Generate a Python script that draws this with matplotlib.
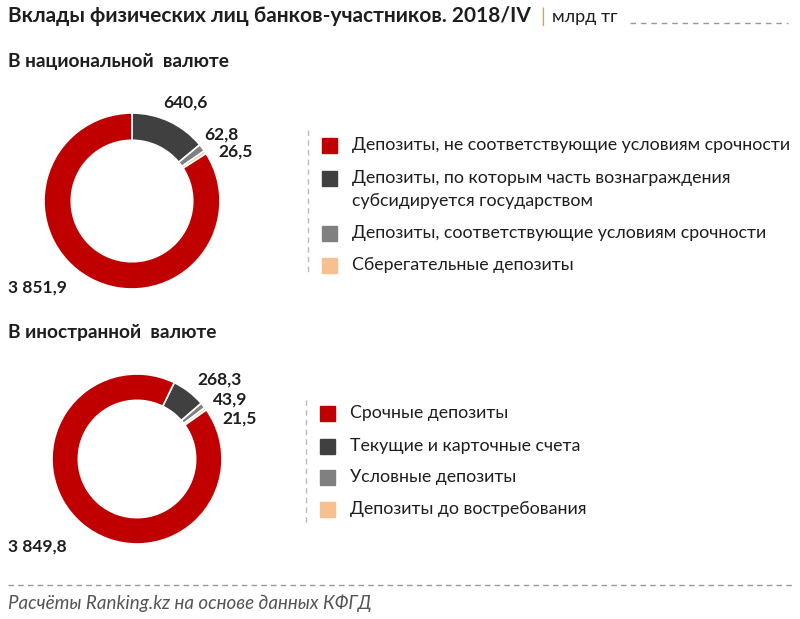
import matplotlib
matplotlib.use("Agg")
import matplotlib.pyplot as plt
from matplotlib.lines import Line2D
from matplotlib.patches import Rectangle

W, H = 800, 619

# ---- data ----
nat_labels = ["Депозиты, не соответствующие условиям срочности",
              "Депозиты, по которым часть вознаграждения\nсубсидируется государством",
              "Депозиты, соответствующие условиям срочности",
              "Сберегательные депозиты"]
nat_values = [3851.9, 640.6, 62.8, 26.5]
nat_value_text = ["3 851,9", "640,6", "62,8", "26,5"]

for_labels = ["Срочные депозиты",
              "Текущие и карточные счета",
              "Условные депозиты",
              "Депозиты до востребования"]
for_values = [3849.8, 268.3, 43.9, 21.5]
for_value_text = ["3 849,8", "268,3", "43,9", "21,5"]

colors = ["#C00000", "#404040", "#808080", "#F8BF90"]

FONT = ["Lato", "DejaVu Sans"]
plt.rcParams["font.family"] = FONT
TXT = "#1E1E1E"

fig = plt.figure(figsize=(W / 100, H / 100), dpi=100)


def fx(x):
    return x / W


def fy(y):
    return 1 - y / H


def donut(cx, cy, r, width, values, startangle):
    ax = fig.add_axes([fx(cx - r), fy(cy + r), 2 * r / W, 2 * r / H])
    # clockwise starting with the second series, red last
    order = [1, 2, 3, 0]
    vals = [values[i] for i in order]
    cols = [colors[i] for i in order]
    ax.pie(vals, colors=cols, startangle=startangle, counterclock=False,
           wedgeprops=dict(width=width, edgecolor="white", linewidth=1.2))
    ax.set_xlim(-1, 1)
    ax.set_ylim(-1, 1)
    ax.set_aspect("auto")
    ax.axis("off")
    return ax


def legend(x_line, y_top, y_bot, rows, labels):
    fig.add_artist(Line2D([fx(x_line), fx(x_line)], [fy(y_top), fy(y_bot)],
                          color="#BBBBBB", lw=1, ls=(0, (4, 3))))
    for y, lab, c in zip(rows, labels, colors):
        s = 15
        fig.add_artist(Rectangle((fx(x_line + 14), fy(y + s / 2)), s / W, s / H,
                                 color=c, transform=fig.transFigure))
        for k, line in enumerate(lab.split("\n")):
            fig.text(fx(x_line + 44), fy(y + 23 * k), line, fontsize=12.8,
                     color=TXT, va="center", ha="left")


# ---- title ----
t = fig.text(fx(8), fy(16), "Вклады физических лиц банков-участников. 2018/IV",
             fontsize=15, fontweight="bold", color=TXT, va="center")
fig.text(fx(540), fy(17), "|", fontsize=14, color="#C9A46A", va="center")
fig.text(fx(552), fy(17), "млрд тг", fontsize=13, color=TXT, va="center")
fig.add_artist(Line2D([fx(630), fx(788)], [fy(23), fy(23)], color="#999999",
                      lw=1, ls=(0, (4, 3.5))))

# ---- national currency ----
fig.text(fx(8), fy(62), "В национальной  валюте", fontsize=13.8,
         fontweight="bold", color=TXT, va="center")
donut(132, 201, 88, 0.31, nat_values, 90)
for (x, y), s in zip([(8, 288), (163, 103), (204, 135), (218, 152)], nat_value_text):
    fig.text(fx(x), fy(y), s, fontsize=12.5, fontweight="bold", color=TXT,
             va="center", ha="left")
legend(308, 130, 275, [145, 178, 233, 265], nat_labels)

# ---- foreign currency ----
fig.text(fx(8), fy(333), "В иностранной  валюте", fontsize=13.8,
         fontweight="bold", color=TXT, va="center")
donut(137, 459, 85, 0.31, for_values, 64)
for (x, y), s in zip([(8, 547), (197, 380), (213, 400), (222, 419)], for_value_text):
    fig.text(fx(x), fy(y), s, fontsize=12.5, fontweight="bold", color=TXT,
             va="center")
legend(306, 400, 525, [413, 446, 477, 509], for_labels)

# ---- footer ----
fig.add_artist(Line2D([fx(8), fx(792)], [fy(585), fy(585)], color="#999999",
                      lw=1, ls=(0, (4, 3))))
fig.text(fx(8), fy(603), "Расчёты Ranking.kz на основе данных КФГД", fontsize=13.5,
         style="italic", color="#555555", va="center")

fig.savefig("out.png", dpi=100)
